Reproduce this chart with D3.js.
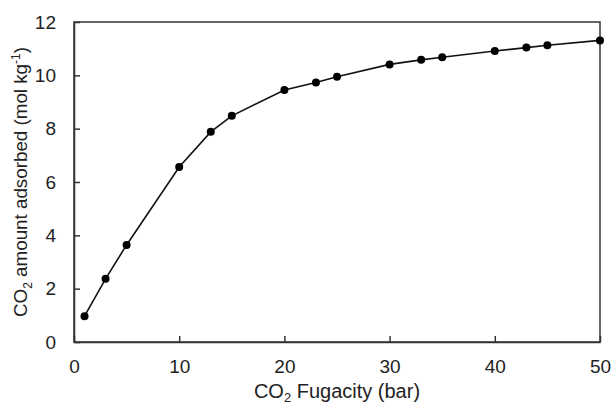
<!DOCTYPE html>
<html>
<head>
<meta charset="utf-8">
<script src="https://cdn.jsdelivr.net/npm/d3@7"></script>
<style>
  body { margin: 0; background: #fff; }
  svg text { font-family: "Liberation Sans", Arial, sans-serif; fill: #222; }
</style>
</head>
<body>
<svg id="chart" width="614" height="406"></svg>
<script>
// CO2 fugacity (bar) vs. amount adsorbed (mol/kg)
let fugacity = [1, 3, 5, 10, 13, 15, 20, 23, 25, 30, 33, 35, 40, 43, 45, 50];
let adsorbed = [0.97, 2.37, 3.64, 6.56, 7.88, 8.48, 9.45, 9.73, 9.95, 10.41, 10.58, 10.68, 10.91, 11.04, 11.13, 11.31];
let xTicks = [0, 10, 20, 30, 40, 50];
let yTicks = [0, 2, 4, 6, 8, 10, 12];

let points = fugacity.map(function(f, i) { return {x: f, y: adsorbed[i]}; });

let svg = d3.select("#chart"),
    margin = {top: 22, right: 14, bottom: 64, left: 74},
    width = +svg.attr("width") - margin.left - margin.right,
    height = +svg.attr("height") - margin.top - margin.bottom;

let x = d3.scaleLinear().domain([0, 50]).range([0, width]);
let y = d3.scaleLinear().domain([0, 12]).range([height, 0]);

let g = svg.append("g")
    .attr("transform", "translate(" + margin.left + "," + margin.top + ")");

// frame
g.append("rect")
    .attr("width", width)
    .attr("height", height)
    .attr("fill", "none")
    .attr("stroke", "#333")
    .attr("stroke-width", 1.5);

// axes with inward ticks
let xAxis = g.append("g")
    .attr("transform", "translate(0," + height + ")")
    .call(d3.axisBottom(x).tickValues(xTicks).tickSizeInner(-6).tickSizeOuter(0).tickPadding(18));
let yAxis = g.append("g")
    .call(d3.axisLeft(y).tickValues(yTicks).tickSizeInner(-6).tickSizeOuter(0).tickPadding(18));

[xAxis, yAxis].forEach(function(a) {
    a.select(".domain").attr("stroke", "#333").attr("stroke-width", 1.5);
    a.selectAll(".tick line").attr("stroke", "#333").attr("stroke-width", 1.5);
    a.selectAll(".tick text").attr("font-size", 19).attr("fill", "#222");
});

// line
let line = d3.line()
    .x(function(d) { return x(d.x); })
    .y(function(d) { return y(d.y); });

g.append("path")
    .datum(points)
    .attr("fill", "none")
    .attr("stroke", "#111")
    .attr("stroke-width", 1.6)
    .attr("d", line);

g.append("g")
    .selectAll("circle")
    .data(points)
    .enter().append("circle")
    .attr("cx", function(d) { return x(d.x); })
    .attr("cy", function(d) { return y(d.y); })
    .attr("r", 4)
    .attr("fill", "#000");

// axis titles
let xt = g.append("text")
    .attr("x", width / 2)
    .attr("y", height + 56)
    .attr("text-anchor", "middle")
    .attr("font-size", 20);
xt.append("tspan").text("CO");
xt.append("tspan").text("2").attr("font-size", 13).attr("dy", 4);
xt.append("tspan").text(" Fugacity (bar)").attr("dy", -4);

let yt = g.append("text")
    .attr("transform", "translate(" + (-47) + "," + (height / 2) + ") rotate(-90)")
    .attr("text-anchor", "middle")
    .attr("font-size", 18.8);
yt.append("tspan").text("CO");
yt.append("tspan").text("2").attr("font-size", 12).attr("dy", 5);
yt.append("tspan").text(" amount adsorbed (mol kg").attr("dy", -5);
yt.append("tspan").text("-1").attr("font-size", 12).attr("dy", -7);
yt.append("tspan").text(")").attr("dy", 7);
</script>
</body>
</html>
